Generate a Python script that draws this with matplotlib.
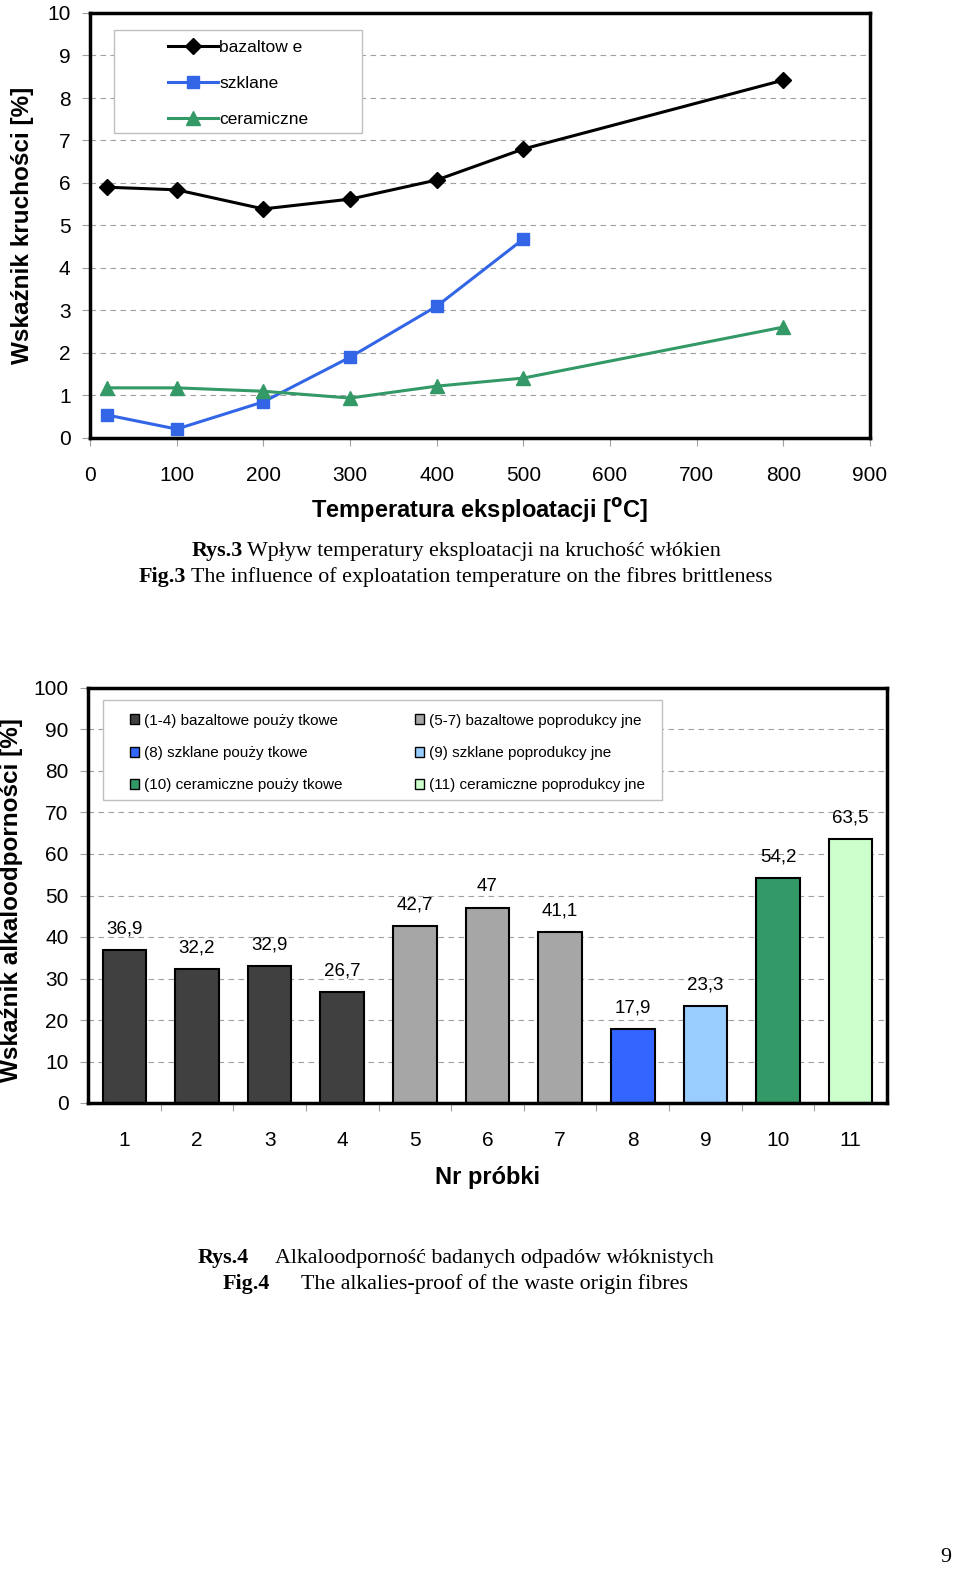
import matplotlib
matplotlib.use("Agg")
import matplotlib.pyplot as plt

plt.rcParams['font.family'] = ['Liberation Sans', 'DejaVu Sans']

# --- Rys.3 dane ---
temp_baz = [20, 100, 200, 300, 400, 500, 800]
kruch_baz = [5.9, 5.84, 5.39, 5.62, 6.07, 6.8, 8.42]
temp_szk = [20, 100, 200, 300, 400, 500]
kruch_szk = [0.54, 0.21, 0.85, 1.9, 3.1, 4.68]
temp_cer = [20, 100, 200, 300, 400, 500, 800]
kruch_cer = [1.18, 1.18, 1.1, 0.94, 1.22, 1.41, 2.61]

# --- Rys.4 dane ---
probki = [1, 2, 3, 4, 5, 6, 7, 8, 9, 10, 11]
alkalo = [36.9, 32.2, 32.9, 26.7, 42.7, 47, 41.1, 17.9, 23.3, 54.2, 63.5]
etykiety = ["36,9", "32,2", "32,9", "26,7", "42,7", "47", "41,1", "17,9", "23,3", "54,2", "63,5"]
kolory = ['#404040'] * 4 + ['#a6a6a6'] * 3 + ['#3366ff', '#99ccff', '#339966', '#ccffcc']
legenda = ["(1-4) bazaltowe pouży tkowe", "(8) szklane pouży tkowe", "(10) ceramiczne pouży tkowe",
           "(5-7) bazaltowe poprodukcy jne", "(9) szklane poprodukcy jne", "(11) ceramiczne poprodukcy jne"]
legenda_kol = ['#404040', '#3366ff', '#339966', '#a6a6a6', '#99ccff', '#ccffcc']

W, H = 960, 1580
fig = plt.figure(figsize=(W / 100, H / 100), dpi=100)


def px_axes(l, t, r, b):
    return fig.add_axes([l / W, 1 - b / H, (r - l) / W, (b - t) / H])


def styl(ax):
    for s in ax.spines.values():
        s.set_linewidth(2.5)
    ax.yaxis.grid(True, linestyle=(0, (5, 4)), color='#a0a0a0', linewidth=0.8)
    ax.set_axisbelow(True)
    ax.tick_params(direction='out', length=6, width=0.8, color='#a0a0a0', labelsize=15, pad=8)


def ramka(ax, x0, y0, x1, y1):
    ax.add_patch(plt.Rectangle((x0, y0), x1 - x0, y1 - y0, transform=ax.transAxes, fill=True,
                               facecolor='white', edgecolor='#c0c0c0', linewidth=1, zorder=4))


# ---------- wykres 1 ----------
ax1 = px_axes(90, 13, 870, 438)
ax1.plot(temp_baz, kruch_baz, color='black', lw=2.2, marker='D', ms=8, label='bazaltow e')
ax1.plot(temp_szk, kruch_szk, color='#3366e6', lw=2.2, marker='s', ms=9, label='szklane')
ax1.plot(temp_cer, kruch_cer, color='#339966', lw=2.2, marker='^', ms=10, label='ceramiczne')
ax1.set_xlim(0, 900)
ax1.set_ylim(0, 10)
ax1.set_xticks(range(0, 901, 100))
ax1.set_yticks(range(0, 11))
styl(ax1)
ax1.tick_params(axis='x', pad=14)
ax1.set_xlabel(r"Temperatura eksploatacji [$^{\mathbf{o}}$C]", fontsize=17, fontweight='bold', labelpad=8)
ax1.set_ylabel("Wskaźnik kruchości [%]", fontsize=17.5, fontweight='bold')
ax1.yaxis.set_label_coords(-0.072, 0.5)
ramka(ax1, 0.0308, 0.7176, 0.3487, 0.96)
leg1 = ax1.legend(loc='upper left', bbox_to_anchor=(0.1, 0.937), fontsize=12.5, frameon=False,
                  handlelength=2.9, labelspacing=1.2, borderpad=0, borderaxespad=0,
                  handletextpad=0.05)
leg1.set_zorder(5)

# ---------- wykres 2 ----------
ax2 = px_axes(88, 688, 887, 1103)
bars = ax2.bar(probki, alkalo, width=0.6, color=kolory, edgecolor='black', linewidth=1.5)
for b, e in zip(bars, etykiety):
    ax2.annotate(e, (b.get_x() + b.get_width() / 2, b.get_height()), xytext=(0, 9),
                 textcoords='offset points', ha='center', va='bottom', fontsize=13.5)
ax2.set_xlim(0.5, 11.5)
ax2.set_ylim(0, 100)
ax2.set_yticks(range(0, 101, 10))
styl(ax2)
ax2.set_xticks(probki)
ax2.set_xticks([i + 0.5 for i in probki[:-1]], minor=True)
ax2.tick_params(axis='x', which='major', length=0, pad=20)
ax2.tick_params(axis='x', which='minor', direction='out', length=6, width=0.8, color='#a0a0a0')
ax2.set_xlabel("Nr próbki", fontsize=17, fontweight='bold', labelpad=12)
ax2.set_ylabel("Wskaźnik alkaloodporności [%]", fontsize=17.5, fontweight='bold')
ax2.yaxis.set_label_coords(-0.081, 0.49)
ramka(ax2, 0.0188, 0.730, 0.7184, 0.971)
uchwyty = [plt.Rectangle((0, 0), 1, 1, facecolor=c, edgecolor='black', linewidth=1) for c in legenda_kol]
leg2 = ax2.legend(uchwyty, legenda, loc='upper left', bbox_to_anchor=(0.0526, 0.938), ncol=2,
                  fontsize=11, frameon=False, handlelength=0.6, handleheight=0.6,
                  handletextpad=0.33, labelspacing=1.2, columnspacing=4.7,
                  borderpad=0, borderaxespad=0)
leg2.set_zorder(5)

# ---------- podpisy ----------
ser = ['Liberation Serif', 'DejaVu Serif']
fs = 15.8
fig.text(243 / W, 1 - 551 / H, "Rys.3", family=ser, fontsize=fs, fontweight='bold', ha='right', va='center')
fig.text(247 / W, 1 - 551 / H, "Wpływ temperatury eksploatacji na kruchość włókien", family=ser,
         fontsize=fs, ha='left', va='center')
fig.text(186 / W, 1 - 577 / H, "Fig.3", family=ser, fontsize=fs, fontweight='bold', ha='right', va='center')
fig.text(191 / W, 1 - 577 / H, "The influence of exploatation temperature on the fibres brittleness",
         family=ser, fontsize=fs, ha='left', va='center')
fig.text(249 / W, 1 - 1258 / H, "Rys.4", family=ser, fontsize=fs, fontweight='bold', ha='right', va='center')
fig.text(275 / W, 1 - 1258 / H, "Alkaloodporność badanych odpadów włóknistych", family=ser,
         fontsize=fs, ha='left', va='center')
fig.text(270 / W, 1 - 1284 / H, "Fig.4", family=ser, fontsize=fs, fontweight='bold', ha='right', va='center')
fig.text(301 / W, 1 - 1284 / H, "The alkalies-proof of the waste origin fibres", family=ser,
         fontsize=fs, ha='left', va='center')
fig.text(946 / W, 1 - 1558 / H, "9", family=ser, fontsize=fs, ha='center', va='center')

fig.savefig("out.png", dpi=100)
